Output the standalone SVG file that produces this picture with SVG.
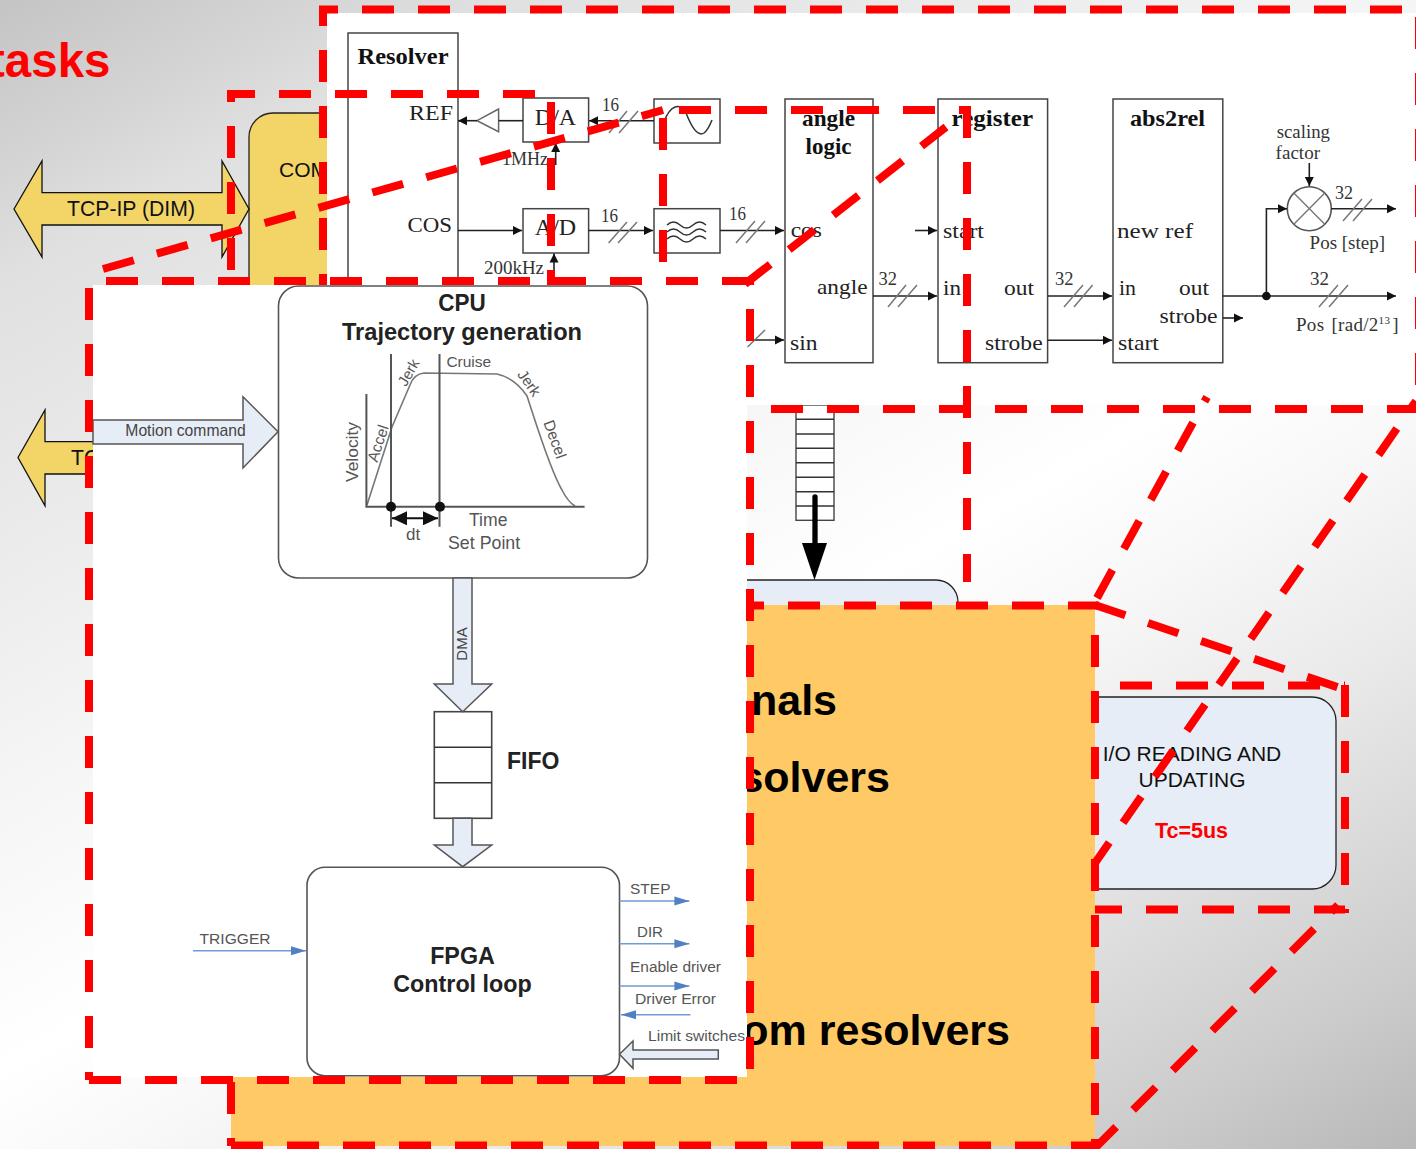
<svg xmlns="http://www.w3.org/2000/svg" width="1416" height="1149" viewBox="0 0 1416 1149">
<style>
text{font-family:"Liberation Sans",Arial,sans-serif}
.s{font-family:"Liberation Serif","Times New Roman",serif;font-size:22px;fill:#222}
.sb{font-family:"Liberation Serif","Times New Roman",serif;font-size:23px;font-weight:bold;fill:#111;text-anchor:middle}
.n{font-family:"Liberation Serif","Times New Roman",serif;font-size:18px;fill:#333}
.box{fill:#fff;stroke:#444;stroke-width:1.5}
.w{fill:none;stroke:#333;stroke-width:1.5}
.c{fill:none;stroke:#222;stroke-width:1.6}
.h{stroke:#777;stroke-width:1.5;fill:none}
.l{fill:#555;font-size:15.5px}
.t{fill:#222;font-size:23.300px;font-weight:bold;text-anchor:middle}
.b{fill:none;stroke:#6f9bd6;stroke-width:1.6}
.big{font-size:43px;font-weight:bold;fill:#000;text-anchor:end}
.pale{fill:#e7edf7;stroke:#555;stroke-width:1.5}
.d{fill:none;stroke:#f00;stroke-width:8;stroke-dasharray:32 24}
.y{fill:#f2d566;stroke:#111;stroke-width:1.3}
.g{fill:none;stroke:#555;stroke-width:2}
</style>
<defs>
<linearGradient id="bg" gradientUnits="userSpaceOnUse" x1="0" y1="0" x2="835" y2="1478">
<stop offset="0" stop-color="#c4c4c4"/><stop offset=".093" stop-color="#d5d5d5"/><stop offset=".144" stop-color="#e0e0e0"/><stop offset=".406" stop-color="#f5f5f5"/><stop offset=".55" stop-color="#fff"/><stop offset=".627" stop-color="#f8f8f8"/><stop offset=".734" stop-color="#eaeaea"/><stop offset=".908" stop-color="#cccccc"/><stop offset="1" stop-color="#b8b8b8"/>
</linearGradient>
<marker id="ah" markerUnits="userSpaceOnUse" markerWidth="10" markerHeight="10" refX="9" refY="5" orient="auto"><path d="M0,.5L9,5L0,9.5Z" fill="#111"/></marker>
<marker id="ab" markerUnits="userSpaceOnUse" markerWidth="16" markerHeight="10" refX="15" refY="5" orient="auto"><path d="M0,.5L15,5L0,9.5Z" fill="#4f81c4"/></marker>
<marker id="as" markerUnits="userSpaceOnUse" markerWidth="16" markerHeight="14" refX="15" refY="7" orient="auto-start-reverse"><path d="M0,0L15,7L0,14Z" fill="#111"/></marker>
</defs>
<rect width="1416" height="1149" fill="url(#bg)"/>
<text x="110.500" y="77" font-size="47.500" font-weight="bold" fill="#f00" text-anchor="end">tasks</text>

<g id="node-decode"><rect x="600" y="580" width="358" height="120" rx="22" fill="#e7edf7" stroke="#222" stroke-width="1.3"/></g>
<g id="node-io">
<rect x="1040" y="697" width="296" height="192" rx="24" fill="#e7edf7" stroke="#222" stroke-width="1.3"/>
<text x="1192" y="761" font-size="21" fill="#111" text-anchor="middle">I/O READING AND</text>
<text x="1192" y="787" font-size="21" fill="#111" text-anchor="middle">UPDATING</text>
<text x="1191.500" y="838" font-size="21.500" font-weight="bold" fill="#f00" text-anchor="middle">Tc=5us</text>
</g>
<g id="node-tasks">
<rect x="231" y="605" width="864" height="541" fill="#ffca66"/>
<text class="big" x="837" y="715">nals</text>
<text class="big" x="890" y="792">solvers</text>
<text class="big" x="1010" y="1045">om resolvers</text>
</g>
<g id="node-com">
<rect x="249" y="113" width="200" height="200" rx="24" fill="#f2d566" stroke="#222" stroke-width="1.3"/>
<text x="279" y="177" font-size="21" fill="#111">COM</text>
</g>
<g id="node-tcp1">
<path class="y" d="M14,209L42,161V192.700H222V161L249,209L222,257V225H42V257Z"/>
<text x="131" y="215.500" font-size="21.200" fill="#111" text-anchor="middle">TCP-IP (DIM)</text>
</g>
<g id="node-tcp2">
<path class="y" d="M18,457.500L45,410V441.700H110V474H45V505.700Z"/>
<text x="71" y="465" font-size="21.200" fill="#111">TC</text>
</g>
<g id="node-fifo-tower" fill="none">
<rect x="796" y="405" width="38" height="115.300" fill="#fff" stroke="#444" stroke-width="1.4"/>
<path stroke="#333" stroke-width="1.4" d="M796,419.300H834M796,434H834M796,448.300H834M796,462.700H834M796,477.300H834M796,491.700H834M796,506H834"/>
<path stroke="#000" stroke-width="5.300" stroke-linecap="round" d="M815,497V545"/>
<path fill="#000" d="M802,543H827L814.500,580Z"/>
</g>

<rect id="panel-resolver" x="327" y="13" width="1089" height="392" fill="#fff"/>
<g id="resolver-nodes">
<g id="node-resolver"><rect class="box" x="348" y="33" width="110" height="270"/>
<text class="sb" x="403" y="64" textLength="91" lengthAdjust="spacingAndGlyphs">Resolver</text>
<text class="s" x="409" y="120" textLength="44" lengthAdjust="spacingAndGlyphs">REF</text>
<text class="s" x="407.500" y="232" textLength="44.500" lengthAdjust="spacingAndGlyphs">COS</text></g>
<g id="node-da"><rect class="box" x="523" y="98" width="65.600" height="44"/><text x="555.500" y="125" class="s" text-anchor="middle" style="font-size:24px">D/A</text></g>
<g id="node-ad"><rect class="box" x="523" y="208.700" width="65.600" height="44.300"/><text x="555.500" y="235" class="s" text-anchor="middle" style="font-size:24px">A/D</text></g>
<g id="node-sine"><rect class="box" x="654" y="99" width="66" height="44"/><path class="w" d="M664,122C670,105 680,102 686,113C692,128 698,137 704,133C708,130 710,125 712,120"/></g>
<g id="node-filter"><rect class="box" x="654" y="208.700" width="66" height="44.300"/><path class="w" d="M667,225q6.500,-6 13,0t13,0t13,0M667,232q6.500,-6 13,0t13,0t13,0M667,239q6.500,-6 13,0t13,0t13,0"/></g>
<path id="node-amp" d="M498.600,109L477,120.700L498.600,131.700Z" fill="#fff" stroke="#666" stroke-width="1.5"/>
<g id="node-angle"><rect class="box" x="785" y="99" width="88" height="263.700"/>
<text class="sb" x="828.500" y="126" textLength="53" lengthAdjust="spacingAndGlyphs">angle</text>
<text class="sb" x="828.500" y="154" textLength="46" lengthAdjust="spacingAndGlyphs">logic</text>
<text class="s" x="790.700" y="237" textLength="31" lengthAdjust="spacingAndGlyphs">cos</text>
<text class="s" x="817" y="294" textLength="50.500" lengthAdjust="spacingAndGlyphs">angle</text>
<text class="s" x="790" y="350" textLength="27.500" lengthAdjust="spacingAndGlyphs">sin</text></g>
<g id="node-register"><rect class="box" x="938" y="99" width="109.600" height="263.700"/>
<text class="sb" x="992.300" y="126" textLength="81.500" lengthAdjust="spacingAndGlyphs">register</text>
<text class="s" x="943" y="238" textLength="41" lengthAdjust="spacingAndGlyphs">start</text>
<text class="s" x="943" y="295" textLength="18" lengthAdjust="spacingAndGlyphs">in</text>
<text class="s" x="1004" y="295" textLength="30" lengthAdjust="spacingAndGlyphs">out</text>
<text class="s" x="985" y="349.500" textLength="57.600" lengthAdjust="spacingAndGlyphs">strobe</text></g>
<g id="node-abs2rel"><rect class="box" x="1113" y="99" width="109.800" height="263.700"/>
<text class="sb" x="1167.500" y="126" textLength="75" lengthAdjust="spacingAndGlyphs">abs2rel</text>
<text class="s" x="1117" y="238" textLength="76" lengthAdjust="spacingAndGlyphs">new ref</text>
<text class="s" x="1119" y="295" textLength="17" lengthAdjust="spacingAndGlyphs">in</text>
<text class="s" x="1179" y="295" textLength="30" lengthAdjust="spacingAndGlyphs">out</text>
<text class="s" x="1159.600" y="322.700" textLength="57.900" lengthAdjust="spacingAndGlyphs">strobe</text>
<text class="s" x="1118" y="349.500" textLength="41" lengthAdjust="spacingAndGlyphs">start</text></g>
<g id="node-mult"><circle cx="1309.300" cy="208.700" r="22" fill="#fff" stroke="#555" stroke-width="1.6"/><path stroke="#777" stroke-width="1.4" d="M1293.800,193.100L1324.800,224.300M1324.800,193.100L1293.800,224.300"/></g>
</g>
<g id="resolver-connectors">
<path class="c" marker-end="url(#ah)" d="M477,120.700H458"/>
<path class="c" d="M523,120.700H498.600"/>
<path class="c" marker-end="url(#ah)" d="M654,120.700H589"/>
<path class="c" marker-end="url(#ah)" d="M555.700,165V143"/>
<path class="c" marker-end="url(#ah)" d="M458,230.500H522"/>
<path class="c" marker-end="url(#ah)" d="M554,285V253.500"/>
<path class="c" marker-end="url(#ah)" d="M588.600,230.500H653"/>
<path class="c" marker-end="url(#ah)" d="M720,230.500H784"/>
<path class="c" marker-end="url(#ah)" d="M747,340H784"/>
<path class="c" marker-end="url(#ah)" d="M873,296H937"/>
<path class="c" marker-end="url(#ah)" d="M915,230.500H937"/>
<path class="c" marker-end="url(#ah)" d="M1047.600,296H1112"/>
<path class="c" marker-end="url(#ah)" d="M1047.600,340.300H1112"/>
<path class="c" marker-end="url(#ah)" d="M1222.800,318H1243"/>
<path class="c" marker-end="url(#ah)" d="M1222.800,296H1396"/>
<path class="c" marker-end="url(#ah)" d="M1266.400,296V208.700H1287"/>
<path class="c" marker-end="url(#ah)" d="M1309.300,163V186"/>
<path class="c" marker-end="url(#ah)" d="M1331,208.700H1396"/>
<circle cx="1266.400" cy="296" r="4.300" fill="#111"/>
<path class="h" d="M609,133L627,111M619,133L638,111M608.600,243L627,222M618,243L637,222M736,243L755,221M746,243L765,221M747.500,347L765,330M888,307L906,285M898,307L917,285M1064,307L1083,285M1074,307L1092.600,285M1319,307L1338,285M1329,307L1348,285M1343,221L1362,199M1353,221L1372,199"/>
<text class="n" x="602" y="111" textLength="17" lengthAdjust="spacingAndGlyphs">16</text>
<text class="n" x="601" y="222" textLength="17" lengthAdjust="spacingAndGlyphs">16</text>
<text class="n" x="729" y="220" textLength="17" lengthAdjust="spacingAndGlyphs">16</text>
<text class="n" x="878.500" y="285" textLength="18.500" lengthAdjust="spacingAndGlyphs">32</text>
<text class="n" x="1055" y="285" textLength="18.500" lengthAdjust="spacingAndGlyphs">32</text>
<text class="n" x="1310" y="285" textLength="19" lengthAdjust="spacingAndGlyphs">32</text>
<text class="n" x="1335" y="199" textLength="18" lengthAdjust="spacingAndGlyphs">32</text>
<text class="n" x="502" y="165" textLength="46" lengthAdjust="spacingAndGlyphs">1MHz</text>
<text class="n" x="484" y="274" textLength="60" lengthAdjust="spacingAndGlyphs">200kHz</text>
<text class="n" x="1276.700" y="137.700" textLength="53.300" lengthAdjust="spacingAndGlyphs">scaling</text>
<text class="n" x="1275.600" y="159" textLength="44.400" lengthAdjust="spacingAndGlyphs">factor</text>
<text class="n" x="1309.600" y="249" textLength="75.400" lengthAdjust="spacingAndGlyphs">Pos [step]</text>
<text class="n" x="1296" y="331" style="font-size:19px;word-spacing:2px;letter-spacing:.3px">Pos [rad/2<tspan font-size="11" dy="-7">13</tspan><tspan dy="7" dx="2">]</tspan></text>
</g>

<rect id="panel-cpu" x="93" y="285" width="654" height="792" fill="#fff"/>
<g id="cpu-nodes">
<g id="node-cpu">
<rect x="278.500" y="286" width="369" height="292" rx="20" fill="#fff" stroke="#555" stroke-width="1.600"/>
<text class="t" x="462" y="311" textLength="47.500" lengthAdjust="spacingAndGlyphs">CPU</text>
<text class="t" x="462" y="340" textLength="240" lengthAdjust="spacingAndGlyphs">Trajectory generation</text>
<path fill="none" stroke="#777" stroke-width="1.600" d="M367,505L392,427L410,385Q414,374 424,373L497,374Q515,378 527,396C535,420 550,470 562,490Q568,502 575,506"/>
<path class="g" d="M366.400,394V506.700H584.600M391,354V526.700M439.500,354V526.700"/>
<circle cx="391" cy="506.700" r="5" fill="#111"/><circle cx="440" cy="506.700" r="5" fill="#111"/>
<path stroke="#111" stroke-width="2" marker-start="url(#as)" marker-end="url(#as)" d="M392,518.300H438"/>
<text class="l" transform="translate(358,452) rotate(-90)" text-anchor="middle" style="font-size:17.400px">Velocity</text>
<text class="l" transform="translate(383,445) rotate(-72)" text-anchor="middle" style="font-size:15.500px">Accel</text>
<text class="l" transform="translate(413,375) rotate(-60)" text-anchor="middle" style="font-size:15px">Jerk</text>
<text class="l" x="446.400" y="366.700">Cruise</text>
<text class="l" transform="translate(525,386) rotate(55)" text-anchor="middle" style="font-size:15px">Jerk</text>
<text class="l" transform="translate(550,441) rotate(70)" text-anchor="middle" style="font-size:15.500px">Decel</text>
<text class="l" x="469" y="526" style="font-size:17.600px">Time</text>
<text class="l" x="406" y="540" style="font-size:17px">dt</text>
<text class="l" x="448" y="549.300" style="font-size:17.800px">Set Point</text>
</g>
<g id="node-fifo">
<rect x="434.300" y="711.700" width="57.400" height="106.600" fill="#fff" stroke="#444" stroke-width="1.600"/>
<path stroke="#333" stroke-width="1.600" d="M434.300,747.300H491.700M434.300,782.700H491.700"/>
<text x="507" y="769.300" font-size="23" font-weight="bold" fill="#222">FIFO</text>
</g>
<g id="node-fpga">
<rect x="307" y="867.300" width="312.500" height="208.400" rx="18" fill="#fff" stroke="#555" stroke-width="1.600"/>
<text class="t" x="462.500" y="964">FPGA</text>
<text class="t" x="462.500" y="992.300">Control loop</text>
</g>
</g>
<g id="cpu-connectors">
<path class="pale" d="M93,420H243V396.700L278,431.700L243,468V444H93Z"/>
<text x="185.500" y="436" font-size="15.700" fill="#444" text-anchor="middle">Motion command</text>
<path class="pale" d="M453,578H472V684H491.700L462.700,711.700L434.300,684H453Z"/>
<text transform="translate(466.500,644) rotate(-90)" font-size="15" fill="#444" text-anchor="middle">DMA</text>
<path class="pale" d="M453,818.300H472V845H491.700L462.700,866.700L434.300,845H453Z"/>
<path class="pale" d="M619.500,1054.300L633,1041V1050H718.300V1059H633V1068.300Z"/>
<path class="b" marker-end="url(#ab)" d="M619.500,901H689.400"/>
<path class="b" marker-end="url(#ab)" d="M619.500,943.700H689.400"/>
<path class="b" marker-end="url(#ab)" d="M619.500,986H689.400"/>
<path class="b" marker-end="url(#ab)" d="M690.500,1014.700H621"/>
<path class="b" marker-end="url(#ab)" d="M193,950.700H306"/>
<g class="l">
<text x="630" y="894">STEP</text>
<text x="637" y="936.700" textLength="26" lengthAdjust="spacingAndGlyphs">DIR</text>
<text x="630" y="972" textLength="91" lengthAdjust="spacingAndGlyphs">Enable driver</text>
<text x="635" y="1004.300" textLength="81" lengthAdjust="spacingAndGlyphs">Driver Error</text>
<text x="199.600" y="944" textLength="71" lengthAdjust="spacingAndGlyphs">TRIGGER</text>
<text x="648" y="1041.300" textLength="97" lengthAdjust="spacingAndGlyphs">Limit switches</text>
</g>
</g>

<g id="dashes">
<path class="d" stroke-dashoffset="13" d="M319,9.500H1416"/>
<path class="d" stroke-dashoffset="12" d="M323,6V285"/>
<path class="d" d="M1419,17V405"/>
<path class="d" d="M771,409H1416"/>
<path class="d" d="M1097,598L1207,397"/>
<path class="d" stroke-dashoffset="7" d="M1095,863L1416,401"/>
<path class="d" d="M1095,605L1340,688"/>
<path class="d" d="M1120,685.500H1345"/>
<path class="d" d="M1345,685V913"/>
<path class="d" stroke-dashoffset="5" d="M1095,909.500H1345"/>
<path class="d" d="M1095,635V1149"/>
<path class="d" d="M1093.500,1149.500L1338,905"/>
<path class="d" d="M103,269L663,110"/>
<path class="d" d="M745,284L946,127"/>
<path class="d" d="M679,110H967"/>
<path class="d" d="M967,106V582"/>
<path class="d" d="M663,118V285"/>
<path class="d" d="M551,102V285"/>
<path class="d" stroke-dashoffset="4" d="M227,94H535"/>
<path class="d" stroke-dashoffset="20" d="M231,90V285"/>
<path class="d" d="M106,281H754"/>
<path class="d" d="M89,288V1080"/>
<path class="d" d="M89,1080H737"/>
<path class="d" d="M750,309V1070"/>
<path class="d" d="M231,1082V1146"/>
<path class="d" d="M231,1145.500H1098"/>
<path class="d" stroke-dashoffset="15" d="M747,605.500H1099"/>
</g>
</svg>
